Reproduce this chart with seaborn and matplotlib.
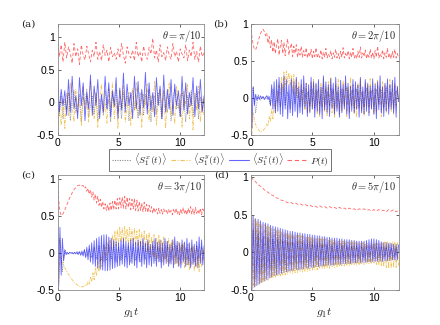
import numpy as np
import pandas as pd
import matplotlib
matplotlib.use("Agg")
import matplotlib.pyplot as plt
import seaborn as sns

# ---------------- data ----------------
# panel (a)  theta = pi/10
a_x = [0.00, -0.20, 0.10, -0.25, 0.05, -0.10, 0.15, -0.28, 0.02, 0.18, -0.15, -0.05, 0.12, -0.30, 0.08, -0.02,
       0.20, -0.22, -0.05, 0.10, -0.18, 0.15, -0.28, 0.05, 0.00, -0.20, 0.18, -0.10, 0.05, -0.30, 0.12, -0.08,
       0.20, -0.15, 0.02, -0.25, 0.15, -0.05, 0.10, -0.28, 0.08, 0.18, -0.12, -0.02, -0.25, 0.15, 0.05, -0.20,
       0.12, -0.10, 0.20, -0.30, 0.02, 0.10, -0.18, 0.15, -0.05, -0.25, 0.18, 0.00, -0.15, 0.12, -0.28, 0.05,
       0.20, -0.10, -0.02, -0.22, 0.15, 0.05, -0.30, 0.10, -0.08, 0.18, -0.20, 0.02, 0.12, -0.25, 0.08, -0.12, 0.05]
a_y = [-0.45, -0.10, -0.35, 0.05, -0.40, 0.15, -0.20, 0.30, -0.05, -0.30, 0.20, -0.15, 0.05, -0.35, 0.25, -0.10,
       0.10, -0.30, 0.32, -0.05, -0.25, 0.15, -0.38, 0.05, 0.28, -0.15, -0.02, -0.32, 0.20, -0.08, 0.30, -0.25,
       0.05, -0.40, 0.18, -0.10, 0.25, -0.30, -0.05, 0.15, -0.35, 0.22, -0.12, 0.30, -0.20, 0.08, -0.38, 0.12,
       -0.05, 0.28, -0.28, 0.10, -0.15, 0.32, -0.35, 0.02, 0.20, -0.22, 0.15, -0.40, 0.05, 0.30, -0.18, -0.02,
       -0.33, 0.25, -0.10, 0.12, -0.38, 0.18, -0.05, 0.28, -0.25, 0.08, -0.42, 0.15, -0.12, 0.25, -0.30, 0.05, -0.20]
a_z = [0.50, -0.15, 0.20, -0.05, 0.18, -0.20, 0.35, -0.15, 0.40, -0.10, 0.10, -0.25, 0.38, -0.05, 0.30, -0.28,
       0.15, -0.10, 0.42, -0.20, 0.25, -0.05, 0.35, -0.25, 0.12, -0.15, 0.40, -0.10, 0.30, -0.22, 0.18, -0.05,
       0.38, -0.25, 0.22, -0.12, 0.45, -0.15, 0.28, -0.05, 0.15, -0.25, 0.40, -0.10, 0.32, -0.20, 0.20, -0.08,
       0.46, -0.18, 0.30, -0.12, 0.15, -0.22, 0.38, -0.05, 0.25, -0.25, 0.42, -0.15, 0.20, -0.10, 0.35, -0.20,
       0.28, -0.05, 0.18, -0.22, 0.40, -0.12, 0.30, -0.18, 0.15, -0.05, 0.38, -0.22, 0.25, -0.10, 0.35, -0.15, 0.10]
a_p = [1.00, 0.70, 0.88, 0.62, 0.92, 0.68, 0.85, 0.75, 0.60, 0.90, 0.70, 0.82, 0.58, 0.88, 0.72, 0.65,
       0.86, 0.74, 0.62, 0.80, 0.70, 0.92, 0.66, 0.78, 0.64, 0.88, 0.72, 0.80, 0.62, 0.84, 0.70, 0.76,
       0.66, 0.82, 0.68, 0.90, 0.72, 0.60, 0.85, 0.74, 0.68, 0.80, 0.64, 0.92, 0.70, 0.78, 0.62, 0.86,
       0.72, 0.66, 0.84, 0.74, 0.98, 0.68, 0.80, 0.62, 0.88, 0.70, 0.76, 0.64, 0.85, 0.72, 0.66, 0.90,
       0.70, 0.78, 0.62, 0.82, 0.74, 0.68, 0.88, 0.64, 0.80, 0.70, 0.92, 0.66, 0.78, 0.62, 0.86, 0.70, 0.76]

# panel (b)  theta = 2pi/10
b_x = [0.00, 0.15, -0.20, 0.05, -0.03, 0.02, -0.02, 0.03, -0.10, 0.12, -0.15, 0.10, -0.12, 0.15, -0.10, 0.08,
       -0.15, 0.12, -0.08, 0.14, -0.12, 0.10, -0.15, 0.08, -0.10, 0.12, -0.14, 0.10, -0.08, 0.15, -0.12, 0.09,
       -0.10, 0.13, -0.15, 0.08, -0.10, 0.12, -0.10, 0.15, -0.08, 0.10, -0.14, 0.12, -0.10, 0.08, -0.12, 0.14,
       -0.10, 0.10, -0.15, 0.12, -0.08, 0.10, -0.12, 0.15, -0.10, 0.08, -0.12, 0.10, 0.00]
b_y = [0.00, -0.48, -0.20, -0.30, -0.36, -0.40, -0.42, -0.44, -0.46, -0.45, -0.44, -0.42, -0.40, -0.35, -0.38,
       -0.25, -0.32, -0.15, -0.28, -0.05, -0.20, 0.08, -0.05, 0.20, 0.05, 0.28, 0.12, 0.35, 0.18, 0.36, 0.20,
       0.34, 0.15, 0.30, 0.10, 0.32, 0.05, 0.25, 0.00, 0.22, -0.05, 0.18, -0.10, 0.15, -0.15, 0.20, -0.20,
       0.10, -0.18, 0.22, -0.15, 0.25, -0.10, 0.18, -0.22, 0.12, -0.25, 0.20, -0.12, 0.26, -0.18, 0.15, -0.24,
       0.22, -0.10, 0.28, -0.20, 0.12, -0.26, 0.18, -0.15, 0.25, -0.22, 0.10, -0.18, 0.24, -0.12, 0.20, -0.25,
       0.15, -0.20, 0.28, -0.10, 0.18, -0.22, 0.12, -0.26, 0.20, -0.15, 0.25, -0.18, 0.10, -0.24, 0.22, -0.12,
       0.18, -0.20, 0.26, -0.15, 0.12, -0.22, 0.20, -0.18, 0.24, -0.10, 0.15, -0.25, 0.22, -0.12, 0.18, -0.20,
       0.10, -0.15, 0.25, -0.18, 0.12, -0.22, 0.20, -0.10, 0.15, -0.05]
b_z = [0.50, -0.40, 0.15, -0.10, 0.05, -0.03, 0.02, -0.02, 0.03, -0.01, 0.02, -0.02, 0.01, 0.03, -0.02, 0.02,
       -0.10, 0.18, -0.15, 0.22, -0.20, 0.25, -0.18, 0.28, -0.22, 0.20, -0.25, 0.30, -0.15, 0.25, -0.28, 0.18,
       -0.20, 0.26, -0.24, 0.22, -0.18, 0.28, -0.26, 0.15, -0.20, 0.25, -0.22, 0.30, -0.12, 0.20, -0.25, 0.18,
       -0.20, 0.28, -0.15, 0.22, -0.26, 0.20, -0.18, 0.25, -0.22, 0.15, -0.28, 0.30, -0.16, 0.22, -0.20, 0.18,
       -0.25, 0.26, -0.14, 0.20, -0.22, 0.28, -0.18, 0.15, -0.26, 0.24, -0.20, 0.18, -0.15, 0.30, -0.22, 0.20,
       -0.28, 0.16, -0.18, 0.25, -0.20, 0.22, -0.15, 0.18, -0.26, 0.28, -0.20, 0.15, -0.22, 0.25, -0.18, 0.20,
       -0.24, 0.16, -0.15, 0.26, -0.22, 0.18, -0.28, 0.22, -0.16, 0.30, -0.20, 0.15, -0.25, 0.20, -0.18, 0.26,
       -0.22, 0.18, -0.15, 0.24, -0.20, 0.28, -0.26, 0.16, -0.05]
b_p = [1.00, 0.82, 0.72, 0.66, 0.65, 0.70, 0.76, 0.82, 0.87, 0.91, 0.93, 0.90, 0.84, 0.88, 0.74, 0.83, 0.68,
       0.78, 0.62, 0.76, 0.60, 0.72, 0.80, 0.58, 0.70, 0.78, 0.60, 0.75, 0.57, 0.72, 0.80, 0.58, 0.68, 0.74,
       0.56, 0.70, 0.60, 0.72, 0.55, 0.66, 0.58, 0.70, 0.55, 0.64, 0.57, 0.68, 0.54, 0.62, 0.56, 0.66, 0.53,
       0.63, 0.56, 0.68, 0.54, 0.60, 0.55, 0.65, 0.53, 0.62, 0.55, 0.67, 0.54, 0.60, 0.56, 0.64, 0.53, 0.61,
       0.55, 0.66, 0.54, 0.60, 0.53, 0.63, 0.55, 0.68, 0.54, 0.60, 0.56, 0.64, 0.53, 0.62, 0.55, 0.67, 0.54,
       0.59, 0.53, 0.63, 0.55, 0.69, 0.54, 0.61, 0.56, 0.65, 0.53, 0.60, 0.55, 0.66, 0.54, 0.62, 0.53, 0.64,
       0.55, 0.70, 0.54, 0.60, 0.56, 0.65, 0.53, 0.61, 0.55, 0.67, 0.54, 0.60, 0.53, 0.63, 0.55, 0.66, 0.54,
       0.60, 0.55]

# panel (c)  theta = 3pi/10
c_x = [0.00, 0.20, -0.25, 0.05, -0.02, 0.01, -0.01, 0.01, -0.01, 0.02, -0.02, 0.03, -0.04, 0.05, -0.06, 0.08,
       -0.08, 0.10, -0.10, 0.12, -0.10, 0.12, -0.08, 0.10, -0.12, 0.08, -0.10, 0.12, -0.06, 0.10, -0.12, 0.08,
       -0.10, 0.06, -0.12, 0.10, -0.08, 0.12, -0.06, 0.10, -0.10, 0.08, -0.12, 0.06, -0.08, 0.10, -0.12, 0.08,
       -0.06, 0.10, -0.10, 0.12, -0.08, 0.06, -0.10, 0.08, -0.12, 0.10, -0.06, 0.08, 0.00]
c_y = [0.00, -0.40, -0.05, -0.10, -0.13, -0.16, -0.20, -0.23, -0.26, -0.29,
       -0.31, -0.34, -0.36, -0.38, -0.40, -0.41, -0.43, -0.44, -0.45, -0.45,
       -0.46, -0.45, -0.45, -0.43, -0.44, -0.38, -0.42, -0.33, -0.39, -0.27,
       -0.36, -0.20, -0.30, -0.12, -0.25, -0.05, -0.18, 0.02, -0.12, 0.08,
       -0.06, 0.14, 0.00, 0.20, 0.05, 0.25, 0.08, 0.30, 0.10, 0.32,
       0.12, 0.35, 0.15, 0.34, 0.14, 0.36, 0.16, 0.33, 0.12, 0.35,
       0.14, 0.32, 0.10, 0.34, 0.12, 0.30, 0.08, 0.32, 0.10, 0.28,
       0.05, 0.30, 0.02, 0.26, 0.00, 0.28, -0.02, 0.22, -0.05, 0.25,
       -0.06, 0.20, -0.08, 0.24, -0.10, 0.18, -0.12, 0.22, -0.08, 0.16,
       -0.12, 0.20, -0.15, 0.15, -0.10, 0.18, -0.16, 0.12, -0.14, 0.16,
       -0.18, 0.10, -0.15, 0.14, -0.20, 0.08, -0.16, 0.12, -0.22, 0.06,
       -0.18, 0.10, -0.24, 0.05, -0.20, 0.08, -0.25, 0.04, -0.18, 0.06,
       -0.10]
c_z = [0.50, -0.45, 0.35, -0.30, 0.20, -0.10, 0.04, -0.02, 0.01, -0.01, 0.01, 0.00, 0.01, -0.01, 0.01, -0.01,
       0.02, -0.02, 0.02, -0.03, 0.03, -0.04, 0.05, -0.06, 0.08, -0.09, 0.11, -0.12, 0.14, -0.15, 0.17, -0.18,
       0.20, -0.20, 0.22, -0.22, 0.24, -0.23, 0.25, -0.24, 0.25, -0.24, 0.22, -0.23, 0.20, -0.21, 0.18, -0.20,
       0.16, -0.18, 0.14, -0.17, 0.18, -0.15, 0.20, -0.18, 0.16, -0.20, 0.14, -0.16, 0.18, -0.14, 0.20, -0.17,
       0.15, -0.20, 0.18, -0.12, 0.16, -0.18, 0.20, -0.15, 0.14, -0.20, 0.18, -0.16, 0.12, -0.18, 0.16, -0.14,
       0.20, -0.18, 0.15, -0.12, 0.18, -0.20, 0.14, -0.16, 0.20, -0.14, 0.16, -0.18, 0.12, -0.15, 0.18, -0.20,
       0.22, -0.14, 0.16, -0.18, 0.14, -0.20, 0.18, -0.12, 0.15, -0.18, 0.20, -0.16, 0.14, -0.20, 0.18, -0.15,
       0.12, -0.18, 0.16, -0.20, 0.22, -0.14, 0.18, -0.16, 0.10]
c_p = [1.00, 0.72, 0.56, 0.51, 0.52, 0.55, 0.59, 0.63, 0.67, 0.71,
       0.75, 0.78, 0.82, 0.85, 0.87, 0.89, 0.91, 0.92, 0.92, 0.93,
       0.91, 0.92, 0.88, 0.90, 0.84, 0.88, 0.80, 0.86, 0.76, 0.83,
       0.72, 0.80, 0.68, 0.77, 0.65, 0.73, 0.62, 0.70, 0.60, 0.67,
       0.58, 0.66, 0.57, 0.68, 0.58, 0.70, 0.59, 0.72, 0.60, 0.74,
       0.60, 0.75, 0.62, 0.76, 0.61, 0.77, 0.60, 0.76, 0.62, 0.74,
       0.59, 0.73, 0.60, 0.74, 0.58, 0.72, 0.57, 0.70, 0.58, 0.68,
       0.56, 0.69, 0.57, 0.66, 0.55, 0.65, 0.56, 0.63, 0.54, 0.62,
       0.55, 0.60, 0.53, 0.61, 0.54, 0.59, 0.53, 0.60, 0.55, 0.58,
       0.53, 0.60, 0.54, 0.58, 0.52, 0.59, 0.54, 0.61, 0.53, 0.58,
       0.52, 0.60, 0.54, 0.62, 0.53, 0.59, 0.52, 0.61, 0.54, 0.63,
       0.53, 0.60, 0.52, 0.62, 0.54, 0.59, 0.53, 0.61, 0.52, 0.60,
       0.56]

# panel (d)  theta = 5pi/10
d_x = [0.00, 0.30, -0.35, 0.25, -0.28, 0.22, -0.24, 0.20, -0.22, 0.18, -0.20, 0.17, -0.18, 0.15, -0.17, 0.14,
       -0.15, 0.14, -0.14, 0.13, -0.13, 0.12, -0.12, 0.12, -0.12, 0.11, -0.11, 0.11, -0.10, 0.10, -0.10, 0.10,
       -0.10, 0.09, -0.09, 0.09, -0.09, 0.09, -0.08, 0.08, -0.08, 0.08, -0.08, 0.08, -0.08, 0.08, -0.07, 0.07,
       -0.07, 0.07, -0.07, 0.07, -0.07, 0.07, -0.06, 0.06, -0.06, 0.06, -0.06, 0.06, 0.00]
d_y = [-0.50, 0.48, -0.47, 0.44, -0.45, 0.42, -0.43, 0.40, -0.41, 0.38,
       -0.40, 0.37, -0.38, 0.35, -0.37, 0.34, -0.35, 0.32, -0.34, 0.31,
       -0.33, 0.30, -0.32, 0.29, -0.31, 0.28, -0.30, 0.27, -0.30, 0.26,
       -0.29, 0.25, -0.28, 0.25, -0.28, 0.24, -0.27, 0.23, -0.27, 0.23,
       -0.26, 0.22, -0.26, 0.22, -0.25, 0.21, -0.25, 0.21, -0.24, 0.20,
       -0.24, 0.20, -0.23, 0.19, -0.23, 0.19, -0.22, 0.18, -0.22, 0.18,
       -0.22, 0.18, -0.21, 0.17, -0.21, 0.17, -0.20, 0.16, -0.20, 0.16,
       -0.20, 0.16, -0.19, 0.15, -0.19, 0.15, -0.18, 0.15, -0.18, 0.14,
       -0.18, 0.14, -0.17, 0.14, -0.17, 0.13, -0.17, 0.13, -0.16, 0.13,
       -0.16, 0.13, -0.16, 0.12, -0.15, 0.12, -0.15, 0.12, -0.15, 0.12,
       -0.15, 0.12, -0.16, 0.12, -0.17, 0.13, -0.18, 0.13, -0.19, 0.14,
       -0.20, 0.14, -0.21, 0.14, -0.21, 0.14, -0.20, 0.14, -0.20, 0.13,
       -0.19]
d_z = [0.50, -0.50, 0.48, -0.46, 0.45, -0.44, 0.44, -0.42, 0.42, -0.40,
       0.40, -0.38, 0.39, -0.36, 0.38, -0.34, 0.36, -0.33, 0.35, -0.31,
       0.34, -0.30, 0.33, -0.29, 0.32, -0.28, 0.31, -0.27, 0.30, -0.26,
       0.29, -0.25, 0.28, -0.24, 0.28, -0.24, 0.27, -0.23, 0.26, -0.23,
       0.26, -0.22, 0.25, -0.22, 0.25, -0.21, 0.24, -0.21, 0.24, -0.20,
       0.23, -0.20, 0.23, -0.19, 0.22, -0.19, 0.22, -0.18, 0.21, -0.18,
       0.21, -0.18, 0.20, -0.17, 0.20, -0.17, 0.19, -0.17, 0.19, -0.16,
       0.19, -0.16, 0.18, -0.16, 0.18, -0.15, 0.17, -0.15, 0.17, -0.15,
       0.17, -0.15, 0.16, -0.14, 0.16, -0.14, 0.15, -0.14, 0.15, -0.14,
       0.15, -0.13, 0.15, -0.13, 0.16, -0.13, 0.17, -0.13, 0.18, -0.12,
       0.18, -0.12, 0.17, -0.12, 0.16, -0.12, 0.14, -0.12, 0.13, -0.11,
       0.13, -0.11, 0.12, -0.11, 0.12, -0.10, 0.11, -0.10, 0.11, -0.10,
       0.10]
d_p = [1.00, 0.97, 0.94, 0.90, 0.88, 0.85, 0.82, 0.80, 0.77, 0.76, 0.73, 0.72, 0.70, 0.69, 0.68, 0.66,
       0.67, 0.65, 0.66, 0.64, 0.65, 0.63, 0.64, 0.62, 0.63, 0.61, 0.62, 0.60, 0.62, 0.60, 0.61, 0.59,
       0.61, 0.59, 0.60, 0.58, 0.60, 0.58, 0.59, 0.57, 0.59, 0.57, 0.58, 0.56, 0.58, 0.57, 0.58, 0.56,
       0.57, 0.55, 0.57, 0.55, 0.57, 0.55, 0.56, 0.54, 0.57, 0.55, 0.57, 0.54, 0.56]

panel_tags = ["(a)", "(b)", "(c)", "(d)"]
theta_labels = [r"$\theta=\pi/10$", r"$\theta=2\pi/10$", r"$\theta=3\pi/10$", r"$\theta=5\pi/10$"]
series_labels = [r"$\langle S_1^x(t)\rangle$", r"$\langle S_1^y(t)\rangle$",
                 r"$\langle S_1^z(t)\rangle$", r"$P(t)$"]
ytick_vals = [-0.5, 0, 0.5, 1]
ytick_text = ["-0.5", "0", "0.5", "1"]
xtick_vals = [0, 5, 10]
xtick_text = ["0", "5", "10"]
t_max = 12

panels = [
    (a_x, a_y, a_z, a_p),
    (b_x, b_y, b_z, b_p),
    (c_x, c_y, c_z, c_p),
    (d_x, d_y, d_z, d_p),
]

# ---------------- style ----------------
sns.set_style("ticks")
plt.rcParams["font.family"] = ["Liberation Sans", "DejaVu Sans"]
plt.rcParams["mathtext.fontset"] = "cm"
plt.rcParams["axes.unicode_minus"] = False

colors = ["#555555", "#EDB120", "#0000FF", "#FF0000"]
styles = [(0, (1, 1.2)), (0, (4, 1.5, 1, 1.5)), "-", (0, (4, 2.5))]
alphas = [0.7, 0.75, 0.6, 0.6]
widths = [0.6, 0.6, 0.6, 0.6]

fig = plt.figure(figsize=(4.4, 3.25), dpi=100)
positions = [
    [0.1307, 0.5846, 0.3330, 0.3415],
    [0.5698, 0.5846, 0.3360, 0.3415],
    [0.1307, 0.1077, 0.3330, 0.3538],
    [0.5698, 0.1077, 0.3360, 0.3538],
]
ytops = [1.2, 1.0, 1.06, 1.03]

axes = []
for i, (pos, series) in enumerate(zip(positions, panels)):
    ax = fig.add_axes(pos)
    axes.append(ax)
    for k, vals in enumerate(series):
        tt = np.linspace(0, t_max, len(vals))
        df = pd.DataFrame({"t": tt, "v": vals})
        sns.lineplot(data=df, x="t", y="v", ax=ax, color=colors[k], linestyle=styles[k],
                     linewidth=widths[k], alpha=alphas[k], estimator=None, sort=False,
                     label=series_labels[k], legend=False)
    ax.set_xlim(0, t_max)
    ax.set_ylim(-0.5, ytops[i])
    ax.set_yticks(ytick_vals)
    ax.set_yticklabels(ytick_text)
    ax.set_xticks(xtick_vals)
    ax.set_xticklabels(xtick_text)
    ax.tick_params(direction="in", length=2.5, width=0.5, labelsize=7.5, pad=2,
                   top=True, right=True, colors="#262626", labelcolor="black")
    for sp in ax.spines.values():
        sp.set_visible(True)
        sp.set_linewidth(0.6)
        sp.set_color("#8a8a8a")
    ax.set_xlabel("")
    ax.set_ylabel("")
    ax.text(0.985, 0.965, theta_labels[i], transform=ax.transAxes, ha="right", va="top", fontsize=7.5)
    ax.text(-0.15, 1.0, panel_tags[i], transform=ax.transAxes, ha="right", va="center",
            fontsize=7.5, family=["DejaVu Serif"])

for ax in axes[2:]:
    ax.set_xlabel(r"$g_1t$", fontsize=8.5, labelpad=3)

handles, labels = axes[0].get_legend_handles_labels()
leg = fig.legend(handles, labels, loc="center", bbox_to_anchor=(0.5, 0.508), ncol=4,
                 fontsize=7, frameon=True, fancybox=False, handlelength=2.0, handletextpad=0.3,
                 columnspacing=0.4, borderpad=0.25, borderaxespad=0)
leg.get_frame().set_edgecolor("#333333")
leg.get_frame().set_linewidth(0.6)
for lh in leg.get_lines():
    lh.set_linewidth(0.8)

fig.savefig("out.png", dpi=100)
